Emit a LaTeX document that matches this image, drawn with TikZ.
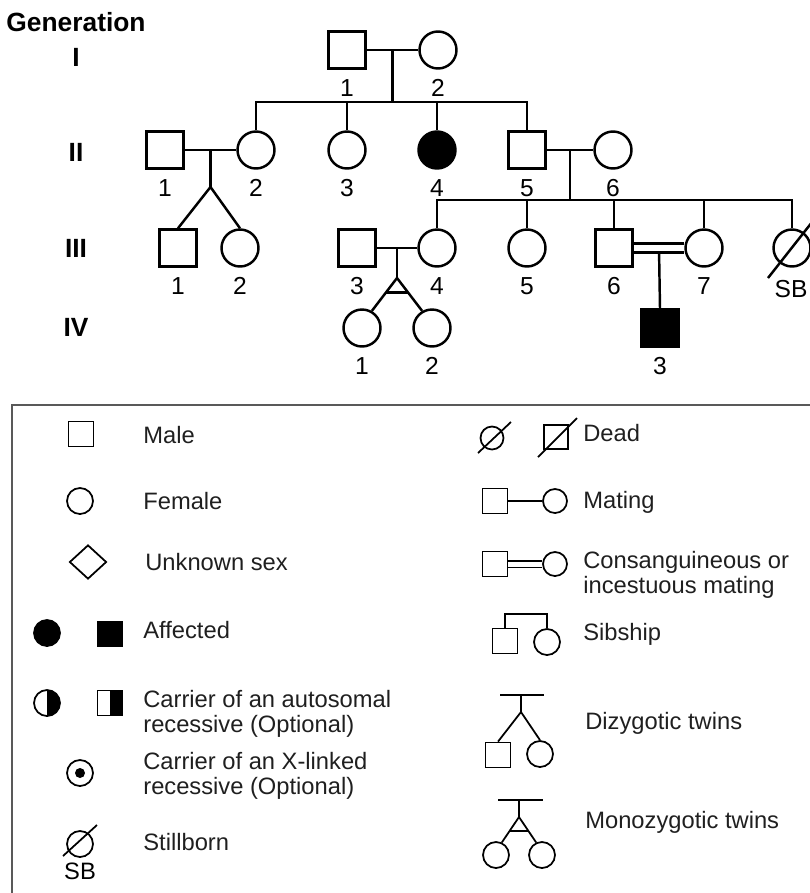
\documentclass[tikz,border=0pt]{standalone}
\usepackage{fontspec}
\setsansfont{Liberation Sans}
\usetikzlibrary{shapes.geometric,calc,backgrounds}

\begin{document}
\begin{tikzpicture}[
  x=0.02cm, y=-0.02cm,
  font=\sffamily,
  % ---- pedigree symbols ------------------------------------------------------
  person/.style={draw=black, line width=1.4pt, fill=white, inner sep=0pt, minimum size=0.74cm},
  male/.style={person, rectangle},
  female/.style={person, circle},
  affected/.style={fill=black},
  num/.style={font=\sffamily\fontsize{14}{14}\selectfont, inner sep=0pt},
  gen/.style={font=\sffamily\bfseries\fontsize{15}{15}\selectfont, inner sep=0pt},
  rel/.style={draw=black, line width=1.4pt},
  consang/.style={rel, double=white, double distance=0.13cm},
  label distance=0.18cm,
  % ---- key -------------------------------------------------------------------
  key/.style={draw=black, line width=1pt, fill=white, inner sep=0pt},
  kmale/.style={key, rectangle, minimum size=0.5cm},
  kfemale/.style={key, circle, minimum size=0.52cm},
  klink/.style={draw=black, line width=1pt},
  ktext/.style={anchor=west, inner sep=0pt, align=left, text=black!88,
    font=\sffamily\fontsize{13.5}{14.5}\selectfont},
  halfblack/.style={path picture={\fill[black] (path picture bounding box.north)
    rectangle (path picture bounding box.south east);}},
  frame/.style={draw=black!65, line width=1.1pt},
]
\useasboundingbox (0,0) rectangle (810,893);

% ---- generation labels -------------------------------------------------------
\node[gen] (gtitle) at (76,22) {Generation};
\node[gen] (gI)   at (76,57)  {I};
\node[gen] (gII)  at (76,152) {II};
\node[gen] (gIII) at (76,248) {III};
\node[gen] (gIV)  at (76,327) {IV};

% ---- generation I --------------------------------------------------------------
\node[male,   label={[num]below:1}] (I1) at (347,50) {};
\node[female, label={[num]below:2}] (I2) at (438,50) {};

% ---- generation II -------------------------------------------------------------
\node[male,   label={[num]below:1}] (II1) at (165,150) {};
\node[female, label={[num]below:2}] (II2) at (256,150) {};
\node[female, label={[num]below:3}] (II3) at (347,150) {};
\node[female, affected, label={[num]below:4}] (II4) at (437,150) {};
\node[male,   label={[num]below:5}] (II5) at (527,150) {};
\node[female, label={[num]below:6}] (II6) at (613,150) {};

% ---- generation III ------------------------------------------------------------
\node[male,   label={[num]below:1}] (III1) at (178,248) {};
\node[female, label={[num]below:2}] (III2) at (240,248) {};
\node[male,   label={[num]below:3}] (III3) at (357,248) {};
\node[female, label={[num]below:4}] (III4) at (437,248) {};
\node[female, label={[num]below:5}] (III5) at (527,248) {};
\node[male,   label={[num]below:6}] (III6) at (614,248) {};
\node[female, label={[num]below:7}] (III7) at (704,248) {};
\node[female] (III8) at (792,248) {};
\node[num] (sb) at (791,289) {SB};
\draw[rel] ($(III8)+(-24,30)$) -- ($(III8)+(28,-36)$);

% ---- generation IV -------------------------------------------------------------
\node[female, label={[num]below:1}] (IV1) at (362,328) {};
\node[female, label={[num]below:2}] (IV2) at (432,328) {};
\node[male, affected, label={[num]below:3}] (IV3) at (660,328) {};

% ---- lines of descent, behind the symbols -------------------------------------
\begin{scope}[on background layer]
  % I1 x I2
  \coordinate (mI) at ($(I1)!0.5!(I2)$);
  \coordinate (sII) at ($(mI)+(0,52)$);
  \draw[rel] (I1) -- (I2);
  \draw[rel] (mI) -- (sII);
  \draw[rel] (II2.north) |- (sII) -| (II5.north);
  \foreach \k in {II3,II4} { \draw[rel] (\k.north) -- (\k.north |- sII); }

  % II1 x II2, dizygotic twins
  \coordinate (mII) at ($(II1)!0.5!(II2)$);
  \coordinate (dz) at ($(mII)+(0,37)$);
  \draw[rel] (II1) -- (II2);
  \draw[rel] (mII) -- (dz);
  \draw[rel] (III1.north) -- (dz) -- (III2.north);

  % II5 x II6
  \coordinate (mII5) at ($(II5)!0.5!(II6)$);
  \coordinate (sIII) at ($(mII5)+(0,50)$);
  \draw[rel] (II5) -- (II6);
  \draw[rel] (mII5) -- (sIII);
  \draw[rel] (III4.north) |- (sIII) -| (III8.north);
  \foreach \k in {III5,III6,III7} { \draw[rel] (\k.north) -- (\k.north |- sIII); }

  % III3 x III4, monozygotic twins
  \coordinate (mIII) at ($(III3)!0.5!(III4)$);
  \coordinate (mz) at ($(mIII)+(0,30)$);
  \draw[rel] (III3) -- (III4);
  \draw[rel] (mIII) -- (mz);
  \draw[rel] (IV1.60) -- (mz) -- (IV2.120);
  \draw[rel] ($(mz)!0.44!(IV1.60)$) -- ($(mz)!0.44!(IV2.120)$);

  % III6 = III7 (consanguineous)
  \coordinate (mIII6) at ($(III6)!0.5!(III7)$);
  \draw[rel] (mIII6) -- (IV3.north);
  \draw[consang] (III6) -- (III7);
\end{scope}

% ---- key -----------------------------------------------------------------------
\draw[frame] (12,893) -- (12,405) -- (810,405);

% left column
\node[kmale] (kM) at (81,434) {};
\node[ktext] (tM) at (143,435) {Male};
\node[kfemale] (kF) at (80,501) {};
\node[ktext] (tF) at (143,501) {Female};
\node[key, diamond, minimum width=0.74cm, minimum height=0.68cm] (kU) at (88,562) {};
\node[ktext] (tU) at (145,562) {Unknown sex};
\node[kfemale, fill=black] (kAf) at (47,633) {};
\node[kmale, fill=black] (kAm) at (110,634) {};
\node[ktext] (tA) at (143,630) {Affected};
\node[kfemale, halfblack] (kCf) at (47,703) {};
\node[kmale, halfblack] (kCm) at (110,703) {};
\node[ktext] (tC) at (143,714) {Carrier of an autosomal\\recessive (Optional)};
\node[kfemale] (kX) at (80,773) {};
\fill (kX.center) circle (0.1cm);
\node[ktext] (tX) at (143,776) {Carrier of an X-linked\\recessive (Optional)};
\node[kfemale] (kS) at (80,844) {};
\draw[klink] ($(kS)+(-17,12)$) -- ($(kS)+(17,-19)$);
\node[num, font=\sffamily\fontsize{13.5}{13.5}\selectfont] (kSB) at (80,871) {SB};
\node[ktext] (tS) at (143,842) {Stillborn};

% right column
\node[kfemale, minimum size=0.46cm] (kDf) at (492,438) {};
\draw[klink] ($(kDf)+(-14,15)$) -- ($(kDf)+(19,-16)$);
\node[kmale, minimum size=0.48cm] (kDm) at (556,437) {};
\draw[klink] ($(kDm)+(-18,20)$) -- ($(kDm)+(21,-19)$);
\node[ktext] (tD) at (583,433) {Dead};

\node[kmale] (kMm) at (495,501) {};
\node[kfemale, minimum size=0.48cm] (kMf) at (555,501) {};
\node[ktext] (tMa) at (583,502) {Mating};

\node[kmale] (kKm) at (495,564) {};
\node[kfemale, minimum size=0.48cm] (kKf) at (555,564) {};
\node[ktext] (tK) at (583,575) {Consanguineous or\\incestuous mating};

\node[kmale] (kSm) at (505,641) {};
\node[kfemale] (kSf) at (547,642) {};
\coordinate (kSbar) at (526,614);
\node[ktext] (tSi) at (583,634) {Sibship};

\node[kmale] (kDZm) at (498,755) {};
\node[kfemale] (kDZf) at (540,754) {};
\coordinate (kDZ) at (521,712);
\coordinate (kDZtop) at (521,695);
\node[ktext] (tDZ) at (585,723) {Dizygotic twins};

\node[kfemale] (kMZa) at (496,855) {};
\node[kfemale] (kMZb) at (542,855) {};
\coordinate (kMZ) at (519,817);
\coordinate (kMZtop) at (519,800);
\node[ktext] (tMZ) at (585,822) {Monozygotic twins};

\begin{scope}[on background layer]
  \draw[klink] (kMm) -- (kMf);
  \draw[klink, double=white, double distance=0.1cm] (kKm) -- (kKf);
  \draw[klink] (kSm.north) |- (kSbar) -| (kSf.north);
  \draw[klink] (kDZm.north) -- (kDZ) -- (kDZf.north);
  \draw[klink] (kDZ) -- (kDZtop);
  \draw[klink] ($(kDZtop)+(-21,0)$) -- ($(kDZtop)+(23,0)$);
  \draw[klink] (kMZa.65) -- (kMZ) -- (kMZb.115);
  \draw[klink] ($(kMZ)!0.56!(kMZa.65)$) -- ($(kMZ)!0.56!(kMZb.115)$);
  \draw[klink] (kMZ) -- (kMZtop);
  \draw[klink] ($(kMZtop)+(-21,0)$) -- ($(kMZtop)+(24,0)$);
\end{scope}
\end{tikzpicture}
\end{document}
